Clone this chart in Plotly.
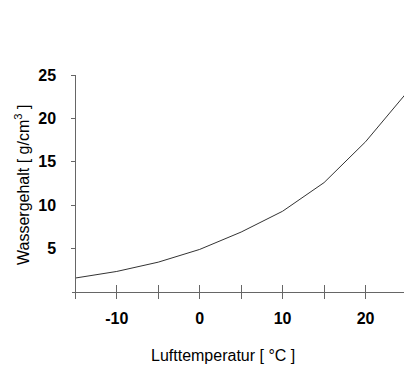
import plotly.graph_objects as go

temps = [-15, -10, -5, 0, 5, 10, 15, 20, 25]
water = [1.6, 2.36, 3.43, 4.9, 6.9, 9.3, 12.6, 17.3, 23.0]

x_ticks = [-10, 0, 10, 20]
x_labels = ["-10", "0", "10", "20"]
x_all_ticks = [-15, -10, -5, 0, 5, 10, 15, 20]
y_ticks = [5, 10, 15, 20, 25]
y_labels = ["5", "10", "15", "20", "25"]

xr = [-15.4, 24.64]
yr = [-0.7, 25]

W, H = 404, 365
ml, mr, mt, mb = 72, 0, 75, 67

font = "Liberation Sans, Arial, sans-serif"
axcol = "#666666"

fig = go.Figure()
fig.add_trace(go.Scatter(x=temps, y=water, mode="lines",
                         line=dict(color="#333333", width=1), showlegend=False,
                         hoverinfo="skip"))
fig.add_trace(go.Scatter(x=[temps[0]], y=[water[0]], mode="markers",
                         marker=dict(opacity=0), xaxis="x2", showlegend=False,
                         hoverinfo="skip"))

xpos = (0 - yr[0]) / (yr[1] - yr[0])
ypos = (-15 - xr[0]) / (xr[1] - xr[0])

fig.update_layout(
    width=W, height=H,
    margin=dict(l=ml, r=mr, t=mt, b=mb, autoexpand=False),
    paper_bgcolor="white", plot_bgcolor="white",
    font=dict(family=font, color="black"),
    xaxis=dict(range=xr, anchor="free", position=xpos, showgrid=False,
               zeroline=False, showline=True, linecolor=axcol, linewidth=1,
               tickmode="array", tickvals=x_ticks, ticktext=x_labels,
               ticks="outside", ticklen=6, tickcolor=axcol, tickwidth=1,
               minor=dict(tick0=-5, dtick=10, ticks="outside", ticklen=6,
                          tickcolor=axcol, tickwidth=1, showgrid=False),
               tickfont=dict(size=16, family=font, weight="bold"),
               ticklabelstandoff=6, automargin=False),
    xaxis2=dict(range=xr, overlaying="x", anchor="free", position=xpos,
                showgrid=False, zeroline=False, showline=False,
                tickmode="array", tickvals=x_all_ticks,
                ticks="inside", ticklen=7, tickcolor=axcol, tickwidth=1,
                showticklabels=False, automargin=False),
    yaxis=dict(range=yr, anchor="free", position=ypos, showgrid=False,
               zeroline=False, showline=True, linecolor=axcol, linewidth=1,
               tickmode="array", tickvals=y_ticks, ticktext=y_labels,
               ticks="outside", ticklen=4, tickcolor=axcol, tickwidth=1,
               tickfont=dict(size=16, family=font, weight="bold"),
               ticklabelstandoff=12, automargin=False),
    annotations=[
        dict(text="Lufttemperatur [ °C ]", xref="paper", yref="paper",
             x=(223 - ml) / (W - ml - mr), y=-(355 - (H - mb)) / (H - mt - mb),
             xanchor="center", yanchor="middle", showarrow=False,
             font=dict(size=16, family=font)),
        dict(text="Wassergehalt [ g/cm<sup>3</sup> ]", xref="paper", yref="paper",
             x=(22 - ml) / (W - ml - mr), y=((H - mb) - 185) / (H - mt - mb),
             xanchor="center", yanchor="middle", showarrow=False, textangle=-90,
             font=dict(size=16, family=font)),
    ],
)

fig.write_html("out.html", config={"displayModeBar": False},
               post_script="document.body.style.margin='0';document.body.style.overflow='hidden';")
